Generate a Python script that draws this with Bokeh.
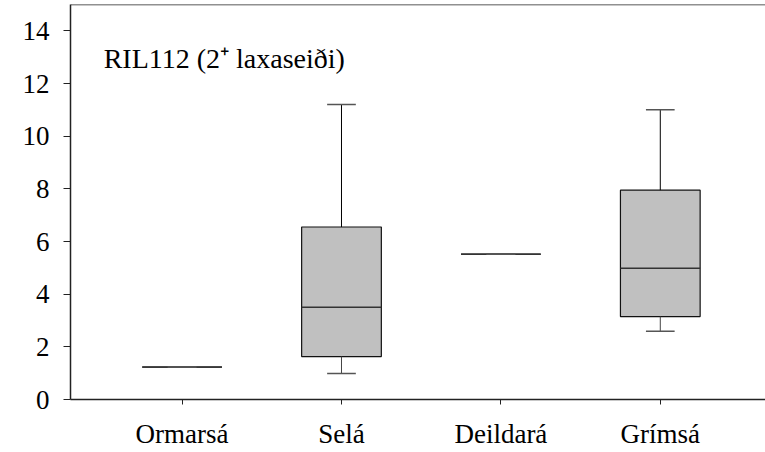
from bokeh.plotting import figure
from bokeh.models import FixedTicker, Label, Span, Range1d
from bokeh.embed import file_html
from bokeh.resources import INLINE

# ---- data ----
categories = ["Ormarsá", "Selá", "Deildará", "Grímsá"]
positions = [1, 2, 3, 4]
q1 = [1.23, 1.63, 5.52, 3.15]
median = [1.23, 3.50, 5.52, 4.98]
q3 = [1.23, 6.55, 5.52, 7.95]
whisker_low = [1.23, 0.99, 5.52, 2.59]
whisker_high = [1.23, 11.2, 5.52, 11.0]
y_ticks = [0, 2, 4, 6, 8, 10, 12, 14]
annotation = "RIL112 (2\u207a laxaseiði)"

FONT = "Liberation Serif"
FONT_SIZE = "27px"
BOX_W = 0.5
CAP_W = 0.18

p = figure(width=765, height=452, output_backend="svg", toolbar_location=None,
           x_range=Range1d(0.30, 4.66), y_range=Range1d(0, 15),
           min_border_left=70, min_border_right=0, min_border_top=4, min_border_bottom=53)
p.grid.visible = False
p.outline_line_color = None
p.background_fill_color = "white"
p.border_fill_color = "white"

# boxes
p.vbar(x=positions, width=BOX_W, bottom=q1, top=q3, fill_color="#c0c0c0",
       line_color="#111111", line_width=1.2)
# medians
p.segment(x0=[x - BOX_W / 2 for x in positions], x1=[x + BOX_W / 2 for x in positions],
          y0=median, y1=median, line_color="#333333", line_width=1.5)
# whiskers
p.segment(x0=positions, x1=positions, y0=q3, y1=whisker_high, line_color="black", line_width=1)
p.segment(x0=positions, x1=positions, y0=whisker_low, y1=q1, line_color="#444444", line_width=1)
# caps
p.segment(x0=[x - CAP_W / 2 for x in positions], x1=[x + CAP_W / 2 for x in positions],
          y0=whisker_high, y1=whisker_high, line_color="#555555", line_width=1.5)
p.segment(x0=[x - CAP_W / 2 for x in positions], x1=[x + CAP_W / 2 for x in positions],
          y0=whisker_low, y1=whisker_low, line_color="#555555", line_width=1.5)

# top frame line
p.add_layout(Span(location=15, dimension="width", line_color="#222222", line_width=1.5))

# axes
p.xaxis.ticker = FixedTicker(ticks=positions)
p.xaxis.major_label_overrides = {pos: c for pos, c in zip(positions, categories)}
p.yaxis.ticker = FixedTicker(ticks=y_ticks)
for ax in (p.xaxis, p.yaxis):
    ax.axis_line_color = "#222222"
    ax.axis_line_width = 1.5
    ax.major_tick_line_color = "#222222"
    ax.major_tick_in = 0
    ax.minor_tick_line_color = None
    ax.major_label_text_font = FONT
    ax.major_label_text_font_size = FONT_SIZE
    ax.major_label_text_color = "black"
p.xaxis.major_tick_out = 5
p.xaxis.major_label_standoff = 14
p.yaxis.major_tick_out = 7
p.yaxis.major_label_standoff = 14

p.add_layout(Label(x=0.508, y=12.95, text=annotation, text_font=FONT, text_font_size="28px",
                   text_color="black", text_baseline="alphabetic"))

open("out.html", "w").write(file_html(p, INLINE))
